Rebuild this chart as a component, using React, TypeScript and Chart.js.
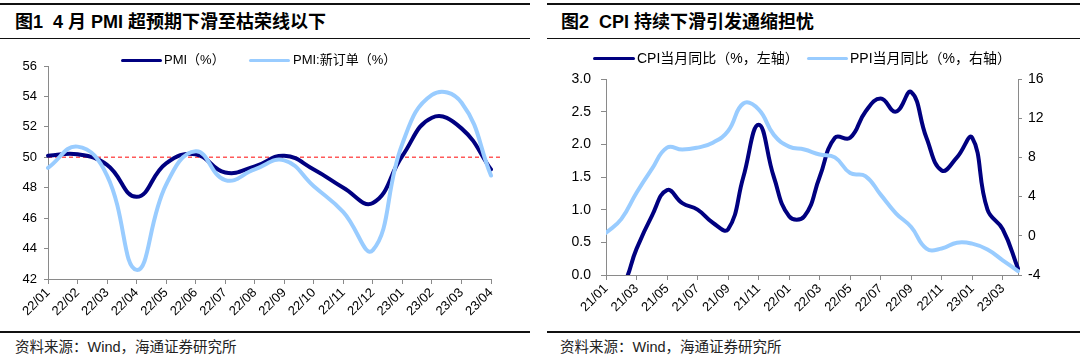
import React, { useEffect, useRef } from 'react';
import { Chart, registerables } from 'chart.js';

Chart.register(...registerables);

// ---------- Data: left chart (PMI) ----------
const pmiMonths = ['22/01', '22/02', '22/03', '22/04', '22/05', '22/06', '22/07', '22/08', '22/09', '22/10', '22/11', '22/12', '23/01', '23/02', '23/03', '23/04'];
const pmiValues = [50.1, 50.2, 49.5, 47.4, 49.6, 50.2, 49.0, 49.4, 50.1, 49.2, 48.0, 47.0, 50.1, 52.6, 51.9, 49.2];
const newOrderValues = [49.3, 50.7, 48.8, 42.6, 48.2, 50.4, 48.5, 49.2, 49.8, 48.1, 46.4, 43.9, 50.9, 54.1, 53.6, 48.8];
const pmiThreshold = 50;
const pmiAxisMin = 42;
const pmiAxisMax = 56;
const pmiAxisStep = 2;

// ---------- Data: right chart (CPI / PPI) ----------
const priceMonths = [
  '21/01', '21/02', '21/03', '21/04', '21/05', '21/06', '21/07', '21/08', '21/09', '21/10', '21/11', '21/12',
  '22/01', '22/02', '22/03', '22/04', '22/05', '22/06', '22/07', '22/08', '22/09', '22/10', '22/11', '22/12',
  '23/01', '23/02', '23/03', '23/04',
];
const cpiValues = [
  -0.3, -0.2, 0.4, 0.9, 1.3, 1.1, 1.0, 0.8, 0.7, 1.5, 2.3, 1.5,
  0.9, 0.9, 1.5, 2.1, 2.1, 2.5, 2.7, 2.5, 2.8, 2.1, 1.6, 1.8,
  2.1, 1.0, 0.7, 0.1,
];
const ppiValues = [
  0.3, 1.7, 4.4, 6.8, 9.0, 8.8, 9.0, 9.5, 10.7, 13.5, 12.9, 10.3,
  9.1, 8.8, 8.3, 8.0, 6.4, 6.1, 4.2, 2.3, 0.9, -1.3, -1.3, -0.7,
  -0.8, -1.4, -2.5, -3.6,
];
const cpiAxisMin = 0;
const cpiAxisMax = 3;
const cpiAxisStep = 0.5;
const ppiAxisMin = -4;
const ppiAxisMax = 16;
const ppiAxisStep = 4;

// ---------- Styles ----------
const NAVY = '#000080';
const LIGHT = '#99CCFF';
const AXIS = '#8a8a8a';
const LATIN = '"Liberation Sans", Arial, "Noto Sans CJK SC", sans-serif';
const CJK = '"Liberation Sans", Arial, "Noto Sans CJK SC", sans-serif';

const thresholdPlugin = {
  id: 'threshold',
  beforeDatasetsDraw(chart: any) {
    const { ctx, chartArea, scales } = chart;
    const y = scales.y.getPixelForValue(pmiThreshold);
    ctx.save();
    ctx.strokeStyle = '#FF5A5A';
    ctx.lineWidth = 1.6;
    ctx.setLineDash([4, 3]);
    ctx.beginPath();
    ctx.moveTo(chartArea.left, y);
    ctx.lineTo(chartArea.right + 11, y);
    ctx.stroke();
    ctx.restore();
  },
};

function lineDs(label: string, data: number[], color: string, order: number, extra: any = {}) {
  return {
    label,
    data,
    borderColor: color,
    backgroundColor: color,
    borderWidth: 4,
    pointRadius: 0,
    pointHoverRadius: 0,
    tension: 0.45,
    fill: false,
    order,
    borderCapStyle: 'round',
    borderJoinStyle: 'round',
    ...extra,
  };
}

function useChart(ref: React.RefObject<HTMLCanvasElement>, make: () => any) {
  useEffect(() => {
    if (!ref.current) return;
    const chart = new Chart(ref.current, make());
    return () => chart.destroy();
  }, []);
}

function PmiChart() {
  const ref = useRef<HTMLCanvasElement>(null);
  useChart(ref, () => ({
    type: 'line',
    data: {
      labels: pmiMonths,
      datasets: [
        lineDs('PMI（%）', pmiValues, NAVY, 2),
        lineDs('PMI:新订单（%）', newOrderValues, LIGHT, 1),
      ],
    },
    options: {
      responsive: false,
      animation: false,
      layout: { padding: { left: 0, right: 46, top: 26, bottom: 0 } },
      plugins: { legend: { display: false }, tooltip: { enabled: false } },
      scales: {
        x: {
          type: 'category',
          offset: false,
          grid: { display: true, drawOnChartArea: false, drawTicks: true, tickLength: 5, color: AXIS },
          border: { display: true, color: AXIS, width: 1 },
          ticks: { autoSkip: false, minRotation: 45, maxRotation: 45, color: '#000', font: { family: LATIN, size: 13 }, padding: 1 },
          afterFit: (s: any) => { s.height = 51; },
        },
        y: {
          min: pmiAxisMin,
          max: pmiAxisMax,
          grid: { display: true, drawOnChartArea: false, drawTicks: true, tickLength: 4, color: AXIS },
          border: { display: true, color: AXIS, width: 1 },
          ticks: { stepSize: pmiAxisStep, color: '#000', font: { family: LATIN, size: 13 }, padding: 7 },
          afterFit: (s: any) => { s.width = 48; },
        },
      },
    },
    plugins: [thresholdPlugin],
  }));
  return <canvas ref={ref} width={537} height={290} style={{ position: 'absolute', left: 0, top: 40, width: 537, height: 290 }} />;
}

function PriceChart() {
  const ref = useRef<HTMLCanvasElement>(null);
  useChart(ref, () => ({
    type: 'line',
    data: {
      labels: priceMonths,
      datasets: [
        lineDs('CPI当月同比（%，左轴）', cpiValues, NAVY, 2, { yAxisID: 'y', clip: { left: 4, right: 4, top: 4, bottom: 0 } }),
        lineDs('PPI当月同比（%，右轴）', ppiValues, LIGHT, 1, { yAxisID: 'y1', clip: { left: 0, right: 4, top: 4, bottom: 4 } }),
      ],
    },
    options: {
      responsive: false,
      animation: false,
      layout: { padding: { left: 0, right: 0, top: 39, bottom: 0 } },
      plugins: { legend: { display: false }, tooltip: { enabled: false } },
      scales: {
        x: {
          type: 'category',
          offset: false,
          grid: { display: true, drawOnChartArea: false, drawTicks: true, tickLength: 5, color: AXIS },
          border: { display: true, color: AXIS, width: 1 },
          ticks: {
            autoSkip: false,
            minRotation: 45,
            maxRotation: 45,
            color: '#000',
            font: { family: LATIN, size: 13 },
            padding: 1,
            callback: function (this: any, _v: any, i: number) {
              return i % 2 === 0 ? priceMonths[i] : null;
            },
          },
          afterFit: (s: any) => { s.height = 55; },
        },
        y: {
          position: 'left',
          min: cpiAxisMin,
          max: cpiAxisMax,
          grid: { display: true, drawOnChartArea: false, drawTicks: true, tickLength: 5, color: AXIS },
          border: { display: true, color: AXIS, width: 1 },
          ticks: {
            stepSize: cpiAxisStep,
            color: '#000',
            font: { family: LATIN, size: 14 },
            padding: 10,
            callback: (v: any) => Number(v).toFixed(1),
          },
          afterFit: (s: any) => { s.width = 63; },
        },
        y1: {
          position: 'right',
          min: ppiAxisMin,
          max: ppiAxisMax,
          grid: { display: true, drawOnChartArea: false, drawTicks: true, tickLength: 4, color: AXIS },
          border: { display: true, color: AXIS, width: 1 },
          ticks: { stepSize: ppiAxisStep, color: '#000', font: { family: LATIN, size: 14 }, padding: 6 },
          afterFit: (s: any) => { s.width = 62; },
        },
      },
    },
  }));
  return <canvas ref={ref} width={537} height={290} style={{ position: 'absolute', left: 543, top: 40, width: 537, height: 290 }} />;
}

function Rule({ left, width, top }: { left: number; width: number; top: number }) {
  return <div style={{ position: 'absolute', left, width, top, height: 1.5, background: '#111' }} />;
}

function LegendItem({ x, y, swatchW, color, text, textX, size }: any) {
  return (
    <>
      <div style={{ position: 'absolute', left: x, top: y - 1.5, width: swatchW, height: 3, background: color, borderRadius: 1.5 }} />
      <div style={{ position: 'absolute', left: textX, top: y - 10, height: 20, lineHeight: '20px', fontFamily: CJK, fontSize: size, color: '#000', whiteSpace: 'pre' }}>{text}</div>
    </>
  );
}

export default function App() {
  const titleStyle: React.CSSProperties = {
    position: 'absolute', top: 9, height: 26, lineHeight: '26px', fontFamily: CJK, fontWeight: 'bold', fontSize: 18, color: '#000', whiteSpace: 'pre',
  };
  const sourceStyle: React.CSSProperties = {
    position: 'absolute', top: 337, height: 20, lineHeight: '20px', fontFamily: CJK, fontSize: 14.5, color: '#222', whiteSpace: 'pre',
  };
  return (
    <div style={{ position: 'absolute', left: 0, top: 0, width: 1080, height: 357, background: '#fff', overflow: 'hidden' }}>
      {/* Left panel */}
      <Rule left={0} width={530} top={3} />
      <div style={{ ...titleStyle, left: 15 }}>图1  4 月 PMI 超预期下滑至枯荣线以下</div>
      <Rule left={0} width={530} top={37.5} />
      <PmiChart />
      <LegendItem x={121} y={60} swatchW={41} color={NAVY} text="PMI（%）" textX={164} size={13} />
      <LegendItem x={249} y={60} swatchW={41} color={LIGHT} text="PMI:新订单（%）" textX={293} size={13} />
      <Rule left={0} width={530} top={331} />
      <div style={{ ...sourceStyle, left: 15 }}>资料来源：Wind，海通证券研究所</div>

      {/* Right panel */}
      <Rule left={547} width={533} top={3} />
      <div style={{ ...titleStyle, left: 561 }}>图2  CPI 持续下滑引发通缩担忧</div>
      <Rule left={547} width={533} top={37.5} />
      <PriceChart />
      <LegendItem x={593} y={58} swatchW={42} color={NAVY} text="CPI当月同比（%，左轴）" textX={637} size={14} />
      <LegendItem x={807} y={58} swatchW={41} color={LIGHT} text="PPI当月同比（%，右轴）" textX={850} size={14} />
      <Rule left={547} width={533} top={331} />
      <div style={{ ...sourceStyle, left: 560 }}>资料来源：Wind，海通证券研究所</div>
    </div>
  );
}
